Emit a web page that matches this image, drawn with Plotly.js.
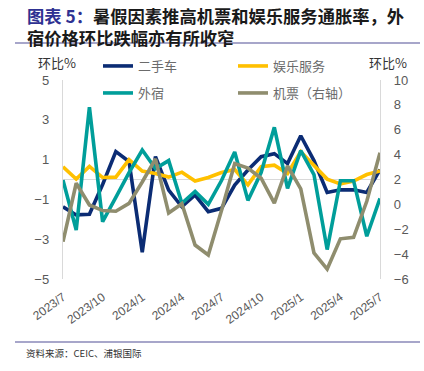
<!DOCTYPE html>
<html>
<head>
<meta charset="utf-8">
<script src="https://cdn.plot.ly/plotly-3.0.1.min.js"></script>
<style>html,body{margin:0;padding:0;background:#fff;}#chart{width:424px;height:371px;}</style>
</head>
<body>
<div id="chart"></div>
<script>
const months = ['2023/7','2023/8','2023/9','2023/10','2023/11','2023/12','2024/1','2024/2','2024/3','2024/4','2024/5','2024/6','2024/7','2024/8','2024/9','2024/10','2024/11','2024/12','2025/1','2025/2','2025/3','2025/4','2025/5','2025/6','2025/7'];
const tickLabels = ['2023/7','2023/10','2024/1','2024/4','2024/7','2024/10','2025/1','2025/4','2025/7'];
const usedCars = [-1.37,-1.78,-1.75,-0.25,1.40,0.90,-3.65,1.15,-0.53,-1.37,-0.78,-1.62,-1.45,-0.28,0.48,1.15,1.30,0.80,2.20,0.95,-0.65,-0.52,-0.52,-0.65,0.50];
const entertainment = [0.64,0.02,0.66,0.10,0.12,1.00,0.42,0.30,0.12,0.37,-0.08,0.10,0.35,0.50,-0.27,0.64,0.72,0.30,1.40,0.70,0.02,-0.22,-0.08,0.25,0.43];
const lodging = [-0.03,-2.54,3.63,-2.12,-0.90,0.35,1.48,0.55,0.95,-1.20,-0.60,-1.25,-0.05,1.38,-1.05,0.35,2.62,-0.45,1.45,0.25,-3.52,-0.06,-0.06,-2.85,-0.95];
const airfare = [-3.00,1.70,-0.05,-0.50,-0.55,0.08,1.80,3.65,-0.70,0.05,-3.27,-4.07,-0.50,3.28,2.92,2.10,0.10,3.10,1.25,-3.90,-5.20,-2.77,-2.65,0.25,4.15];

const L = 63, R = 380, T = 80, B = 279, W = 424, H = 371;
const px = x => (x - L) / (R - L);
const py = y => (B - y) / (B - T);
const lw = 3.6;
const cjk = '"Noto Sans CJK SC", "Noto Sans", sans-serif';
const num = '"Liberation Sans", "DejaVu Sans", sans-serif';

const traces = [
  {x: months, y: usedCars, name: '二手车', type: 'scatter', mode: 'lines', line: {color: '#0B2C74', width: lw}, legend: 'legend', cliponaxis: false},
  {x: months, y: entertainment, name: '娱乐服务', type: 'scatter', mode: 'lines', line: {color: '#FFC000', width: lw}, legend: 'legend', cliponaxis: false},
  {x: months, y: lodging, name: '外宿', type: 'scatter', mode: 'lines', line: {color: '#009E9A', width: lw}, legend: 'legend2', cliponaxis: false},
  {x: months, y: airfare, name: '机票（右轴）', type: 'scatter', mode: 'lines', line: {color: '#8F8D6E', width: lw}, yaxis: 'y2', legend: 'legend2', cliponaxis: false}
];

const legendBase = {
  orientation: 'h', xanchor: 'left', yanchor: 'middle',
  entrywidth: 90, entrywidthmode: 'pixels', itemwidth: 30,
  bgcolor: 'rgba(0,0,0,0)', font: {family: cjk, size: 13, color: '#6b6b6b'},
  traceorder: 'normal'
};

const layout = {
  width: W, height: H,
  margin: {l: L, r: W - R, t: T, b: H - B, pad: 0},
  paper_bgcolor: '#ffffff', plot_bgcolor: '#ffffff',
  showlegend: true,
  title: {
    text: '<b><span style="color:#2E3192">图表 5：</span>暑假因素推高机票和娱乐服务通胀率，外<br>宿价格环比跌幅亦有所收窄</b>',
    xref: 'container', yref: 'container', x: 27 / W, xanchor: 'left', y: 1 - 23 / H, yanchor: 'middle',
    pad: {l: 0, r: 0, t: 0, b: 0},
    font: {family: cjk, size: 17.3, color: '#1a1a1a'}
  },
  legend: Object.assign({}, legendBase, {x: px(98), y: py(66)}),
  legend2: Object.assign({}, legendBase, {x: px(98), y: py(93)}),
  xaxis: {
    type: 'category', range: [0, 24], automargin: false,
    tickmode: 'array', tickvals: tickLabels, ticktext: tickLabels,
    tickangle: -36, ticks: '', showgrid: false, zeroline: false, showline: false,
    tickfont: {family: num, size: 12, color: '#595959'}, ticklabelstandoff: 8
  },
  yaxis: {
    range: [-5, 5], tickvals: [-5, -3, -1, 1, 3, 5], automargin: false,
    showgrid: false, zeroline: true, zerolinecolor: '#d9d9d9', zerolinewidth: 1.2,
    showline: true, linecolor: '#d9d9d9', linewidth: 1.2, ticks: '',
    tickfont: {family: num, size: 13, color: '#595959'}, ticklabelstandoff: 10
  },
  yaxis2: {
    range: [-6, 10], dtick: 2, tick0: 0, overlaying: 'y', side: 'right', automargin: false,
    showgrid: false, zeroline: false, showline: true, linecolor: '#d9d9d9', linewidth: 1.2, ticks: '',
    tickfont: {family: num, size: 13, color: '#595959'}, ticklabelstandoff: 10
  },
  shapes: [
    {type: 'line', xref: 'paper', yref: 'paper', x0: px(15), x1: px(420), y0: py(43), y1: py(43), line: {color: '#8A88B8', width: 1.5}},
    {type: 'line', xref: 'paper', yref: 'paper', x0: px(15), x1: px(420), y0: py(342), y1: py(342), line: {color: '#8A88B8', width: 1.5}}
  ],
  annotations: [
    {xref: 'paper', yref: 'paper', x: px(36), y: py(63), xanchor: 'left', yanchor: 'middle', showarrow: false,
     text: '环比%', font: {family: cjk, size: 13, color: '#333333'}},
    {xref: 'paper', yref: 'paper', x: px(367), y: py(63), xanchor: 'left', yanchor: 'middle', showarrow: false,
     text: '环比%', font: {family: cjk, size: 13, color: '#333333'}},
    {xref: 'paper', yref: 'paper', x: px(24), y: py(353), xanchor: 'left', yanchor: 'middle', showarrow: false,
     text: '资料来源：CEIC、浦银国际', font: {family: cjk, size: 9.5, color: '#333333'}}
  ]
};

Plotly.newPlot('chart', traces, layout, {displayModeBar: false, staticPlot: true});
</script>
</body>
</html>
